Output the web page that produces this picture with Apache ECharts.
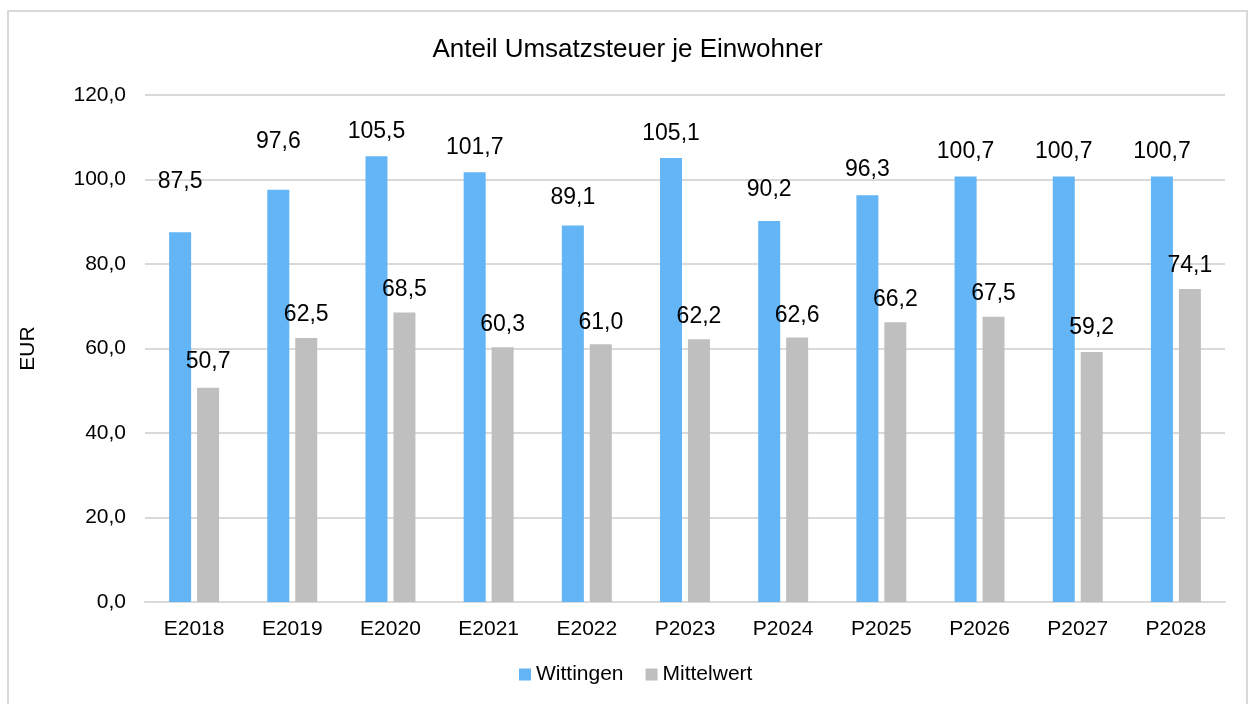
<!DOCTYPE html>
<html>
<head>
<meta charset="utf-8">
<script src="https://cdn.jsdelivr.net/npm/echarts@6/dist/echarts.min.js"></script>
<style>
  html, body { margin: 0; padding: 0; background: #fff; }
  #frame { position: absolute; left: 7px; top: 10px; width: 1241px; height: 700px; border: 2px solid #d9d9d9; box-sizing: border-box; }
  #chart { width: 1255px; height: 704px; }
</style>
</head>
<body>
<div id="frame"></div>
<div id="chart"></div>
<script>
const years = ['E2018', 'E2019', 'E2020', 'E2021', 'E2022', 'P2023', 'P2024', 'P2025', 'P2026', 'P2027', 'P2028']
const wittingen = [87.5, 97.6, 105.5, 101.7, 89.1, 105.1, 90.2, 96.3, 100.7, 100.7, 100.7]
const mittelwert = [50.7, 62.5, 68.5, 60.3, 61.0, 62.2, 62.6, 66.2, 67.5, 59.2, 74.1]
const yTicks = [0, 20, 40, 60, 80, 100, 120]

const fmt = v => v.toFixed(1).replace('.', ',')
const font = 'Liberation Sans, Arial, sans-serif'

// Excel labels were nudged by hand, a few sit higher than the rest
const blueLift = [34, 31, 8, 8, 11, 8, 15, 9, 8, 8, 8]
const greyLift = [10, 7, 6, 6, 5, 6, 5, 6, 7, 8, 7]

const chart = echarts.init(document.getElementById('chart'))
chart.setOption({
  animation: false,
  textStyle: { fontFamily: font },
  title: {
    text: 'Anteil Umsatzsteuer je Einwohner',
    left: 'center',
    top: 32,
    textStyle: { fontFamily: font, fontSize: 26, fontWeight: 'normal', color: '#000' }
  },
  legend: {
    bottom: 14,
    left: 514,
    itemWidth: 12,
    itemHeight: 12,
    itemGap: 22,
    icon: 'rect',
    textStyle: { fontFamily: font, fontSize: 21, color: '#000' }
  },
  grid: { left: 145, right: 30, top: 95, bottom: 102 },
  xAxis: {
    type: 'category',
    data: years,
    axisTick: { show: false },
    axisLine: { lineStyle: { color: '#d9d9d9', width: 2 } },
    axisLabel: { fontSize: 21, color: '#000', margin: 17 }
  },
  yAxis: {
    type: 'value',
    min: yTicks[0],
    max: yTicks[yTicks.length - 1],
    interval: 20,
    name: 'EUR',
    nameLocation: 'middle',
    nameRotate: 90,
    nameGap: 106,
    nameTextStyle: { fontSize: 21, color: '#000' },
    axisLine: { show: false },
    axisLabel: { fontSize: 21, color: '#000', margin: 19, formatter: v => fmt(v) },
    splitLine: { lineStyle: { color: '#d9d9d9', width: 2 } }
  },
  series: [
    {
      name: 'Wittingen',
      type: 'bar',
      barWidth: 22,
      barGap: '27%',
      itemStyle: { color: '#63b5f5' },
      data: wittingen.map((v, i) => ({
        value: v,
        label: { offset: [0, -blueLift[i]] }
      })),
      label: { show: true, position: 'top', fontSize: 23, color: '#000', formatter: p => fmt(p.value) }
    },
    {
      name: 'Mittelwert',
      type: 'bar',
      barWidth: 22,
      itemStyle: { color: '#bfbfbf' },
      data: mittelwert.map((v, i) => ({
        value: v,
        label: { offset: [0, -greyLift[i]] }
      })),
      label: { show: true, position: 'top', fontSize: 23, color: '#000', formatter: p => fmt(p.value) }
    }
  ]
})
</script>
</body>
</html>
